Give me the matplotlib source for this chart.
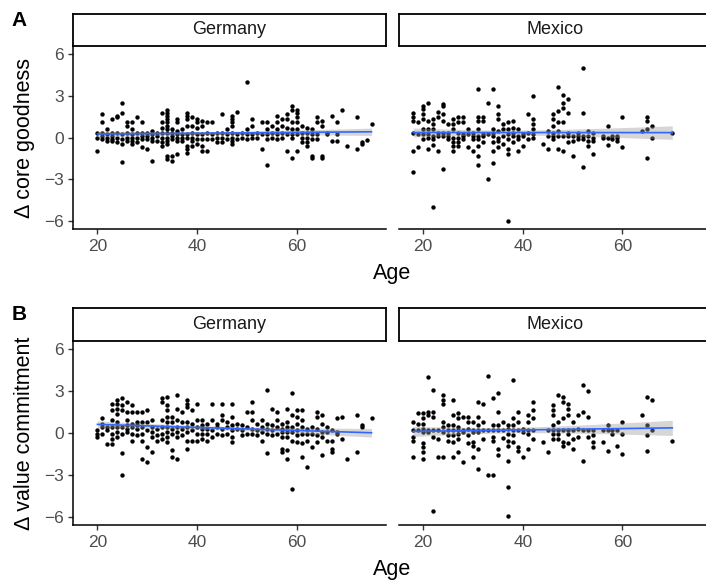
import numpy as np
import matplotlib.pyplot as plt

plt.rcParams['font.family'] = ['Liberation Sans', 'DejaVu Sans']

countries = ['Germany', 'Mexico']
row_labels = ['A', 'B']
y_titles = ['\u0394 core goodness', '\u0394 value commitment']
x_ticks = [20, 40, 60]
y_ticks = [-6, -3, 0, 3, 6]

# panel A, Germany: ages and the deltas seen at each age
ger_core_age = [20, 21, 22, 23, 24, 25, 26, 27, 28, 29, 30, 31, 32, 33, 34, 35, 36, 37, 38, 39,
                40, 41, 42, 43, 44, 45, 46, 47, 48, 49, 50, 51, 52, 53, 54, 55, 56, 57, 58, 59,
                60, 61, 62, 63, 64, 65, 66, 67, 68, 69, 70, 72, 73, 74, 75]
ger_core_val = [[0, -1, 0.35], [1.7, 1.1, 0.35, 0.1, -0.1], [0.6, 0.25, 0, -0.25],
                [1.3, 0.35, 0.1, -0.1, -0.25], [1.45, 1.55, 0.35, 0, -0.35],
                [2.5, 1.8, -1.8, 0.25, -0.1, -0.5], [1.1, 0.85, 0.35, 0, -0.25],
                [1.1, 0.6, 0.25, 0, -0.25, -0.5], [1.5, 0.35, 0, -0.35],
                [1.15, 0.35, 0.1, -0.1, -0.7], [0.35, 0.1, -0.1, -0.85],
                [-1.7, 0.5, 0.25, 0, -0.25], [0.35, 0.1, -0.25],
                [1.8, 1.1, 0.7, 0.35, 0, -0.35, -0.6],
                [2.0, 1.8, 1.55, 1.3, 1.1, 0.85, 0.6, 0.35, 0, -0.25, -0.5, -1.3, -1.55],
                [-1.7, -1.3, 0.6, 0.35, 0.1, -0.1], [1.3, 1.1, 0.5, 0.25, 0, -0.25, -1.2],
                [0.6, 0.25, 0, -0.25], [1.8, 1.55, 1.3, 0.85, 0.25, 0, -0.6, -0.85, -1.1],
                [1.45, 0.85, 0.35, 0, -0.25, -0.6], [1.3, 1.1, 0.7, 0.25, -0.1, -0.5],
                [1.2, 0.85, 0.25, -0.1, -0.6, -1.0], [1.1, 0.35, -0.1, -1.0], [1.1, 0.25, -0.1],
                [0.35, 0, -0.35], [1.7, 0.35, 0, -0.35], [0.6, 0.25, -0.1],
                [1.55, 1.3, 1.1, 0.85, 0.35, 0, -0.25, -0.5], [1.85, 0.25, -0.1], [0.35, 0],
                [4.0, 0.6, 0.25, -0.1], [1.3, 0.85, 0.25, 0], [0.35, 0], [1.1, 0.25, -0.85],
                [1.1, 0.6, 0.25, -0.1, -2.0], [0.85, 0.35, 0], [1.55, 1.1, 0.6, 0.25, -0.1],
                [1.3, 0.85, 0.35, 0], [1.7, 1.3, 0.7, 0.25, -1.0],
                [2.3, 2.0, 1.1, 0.6, 0.25, 0, -1.5], [2.0, 1.8, 1.45, 1.1, 0.6, 0.25, -1.0],
                [0.85, 0.35, 0, -0.35], [0.7, 0.35, 0, -0.35, -0.6],
                [0.6, 0.25, -0.1, -1.3, -1.5], [1.45, 1.1, 0.25, -0.1], [1.2, 0.85, -1.3, -1.5],
                [0.35, 0.25], [1.55, -0.25], [1.1, 0.25, -0.25], [2.0], [-0.6], [1.5, -0.85],
                [-0.5, -0.35], [-0.2], [1.0]]

# panel A, Mexico
mex_core_age = [18, 19, 20, 21, 22, 23, 24, 25, 26, 27, 28, 29, 30, 31, 32, 33, 34, 35, 36, 37,
                38, 39, 40, 41, 42, 44, 45, 46, 47, 48, 49, 50, 51, 52, 53, 54, 56, 57, 58, 59,
                60, 64, 65, 66, 70]
mex_core_val = [[1.8, 1.5, 1.2, 0.35, -1.0, -2.5], [1.1, 0.25, -0.65],
                [2.3, 2.05, 1.7, 1.3, 0.6, 0.25, -0.1], [2.5, 1.2, 0.6, 0.25, 0, -0.85],
                [1.3, 0.95, 0.6, 0.1, -0.1, -0.55, -5.0], [1.85, 1.45, 0.35, 0.1, -1.0],
                [2.4, 2.3, 1.7, 1.2, 0.35, 0.1, -2.3], [0.95, 0.35, 0.1, -0.1],
                [1.3, 0.95, 0.6, 0, -0.35, -0.6, -1.0], [1.5, 1.1, 0.35, 0, -0.35, -0.6],
                [1.5, 1.1, 0.25, 0.1, -0.1], [0.6, 0.25, -0.7], [0.35, 0.1, -0.1, -0.95],
                [3.5, 1.5, 1.2, 0.6, 0.1, -0.1, -0.6, -1.3, -2.0], [1.5, 1.2, 0.25, 0.1, -0.35],
                [2.5, 0.25, -3.0], [3.5, 0.6, 0.35, 0.1, -0.35, -1.0, -1.85],
                [2.3, 1.7, 1.3, 0.5, 0, -0.25, -0.7], [0.95, 0.6, 0.1, -0.5],
                [-6.0, 1.1, 0.6, 0.25, -0.1, -0.85, -1.2], [1.2, 0.7, 0.35, 0.1, -0.35],
                [0.6, 0.1, -0.1, -1.0], [0.25, 0.1, -0.6], [1.7, 0.35, -0.1],
                [3.0, 1.3, 0.95, 0.6, 0.25, 0], [-0.5], [0.5, 0.1, -0.85],
                [1.7, 1.3, 0.8, 0.35, 0.1, -0.1], [3.65, 1.9, 1.1, 0.5, 0.1, -0.85],
                [3.1, 2.5, 2.15, 1.1, 0.1, -0.95], [2.8, 1.8, 0.35, 0.1, -0.35],
                [0.1, -0.25, -1.3], [0.35, 0.1, -0.1], [5.0, 1.8, 0.1, -0.1, -2.15],
                [0.5, 0.1, -0.25, -0.6], [0.35, 0, -0.25, -1.2], [0.1, 0], [0.8, 0, -0.55],
                [0.1, -0.1], [0.1, 0, -0.25], [1.45, -0.65], [0.5], [1.5, 1.2, 0.6, -1.5],
                [0.8, 0], [0.3]]

# panel B, Germany
ger_value_age = [20, 21, 22, 23, 24, 25, 26, 27, 28, 29, 30, 31, 32, 33, 34, 35, 36, 37, 38, 39,
                 40, 41, 42, 43, 44, 45, 46, 47, 48, 49, 50, 51, 52, 53, 54, 55, 56, 57, 58, 59,
                 60, 61, 62, 63, 64, 65, 66, 67, 68, 69, 70, 72, 73, 75]
ger_value_val = [[0.2, -0.05, -0.3], [1.05, 0.65, 0.4, -0.05], [0.4, 0.2, -0.8],
                 [2.05, 1.65, 0.9, 0.45, -0.05, -0.4, -0.8],
                 [2.35, 2.1, 1.75, 1.35, 0.8, 0.4, 0.05, -0.3],
                 [2.5, 2.0, 1.65, 0.45, -0.05, -1.45, -3.0], [2.25, 1.5, 0.9, 0.55, 0.3, 0.05],
                 [2.0, 1.5, 0.65, 0.45, -0.05, -0.55], [1.5, 0.8, 0.55, 0.3, -0.15],
                 [1.5, 0.8, 0.45, -0.05, -0.55, -1.85], [1.65, 0.8, 0.2, -1.0, -2.1],
                 [0.9, 0.45, 0.05, -0.3, -1.35], [0.3, -0.15, -0.55],
                 [2.5, 2.25, 0.9, 0.4, -0.05, -0.4],
                 [2.6, 2.0, 1.65, 1.15, 0.8, 0.45, 0.05, -0.3, -0.65],
                 [1.15, 0.8, 0.3, -0.05, -1.25, -1.75], [2.7, 1.75, 0.9, 0.45, 0.05, -0.3, -1.85],
                 [1.5, 0.8, 0.3, -0.15], [2.35, 2.1, 1.9, 0.8, 0.45, 0.05, -0.55, -1.15],
                 [1.65, 0.65, 0.2, -0.55], [2.1, 0.9, 0.45, -0.05, -0.55],
                 [0.9, 0.55, 0.3, -0.05, -0.4], [0.65, 0.3, -0.05, -0.55], [2.1, 0.9, 0.2, -0.3],
                 [0.65, 0.45, -0.05], [2.1, 1.3, 0.9, 0.3, -0.15], [0.8, 0.45, -0.05],
                 [2.1, 1.15, 0.55, 0.2, -0.3, -0.65], [0.65, 0.3], [0.55, 0.2, -0.15],
                 [1.5, 0.45, -0.05], [2.25, 1.5, 0.9, 0.3, -0.05], [0.65, 0.2, -0.15],
                 [0.9, 0.45, 0.05, -0.55], [3.1, 0.65, 0.3, -0.05, -1.45], [1.75, 0.55, 0.2, -0.15],
                 [1.5, 0.9, 0.45, -0.05], [0.65, 0.3, 0.05, -0.3, -1.15, -1.35],
                 [1.75, 0.8, 0.45, 0.05, -0.3, -1.25, -1.85], [2.85, 1.3, 0.45, 0.05, -0.55, -4.0],
                 [1.65, 1.15, 0.65, 0.2, -0.15, -0.65], [1.65, 0.9, 0.45, -0.05, -0.75, -1.75],
                 [0.3, -0.05, -0.55, -2.45], [0.45, -0.05, -1.0], [1.5, 1.15, 0.3, -0.15, -0.65],
                 [1.3, 0.65, 0.05, -0.3, -1.6], [0.45, 0.05, -0.55], [0.2, -0.55, -1.15, -1.35],
                 [1.05, 0.05, -0.05], [1.15, -0.4], [-1.85], [1.3, -1.35], [0.55, 0.4], [1.05]]

# panel B, Mexico
mex_value_age = [18, 19, 20, 21, 22, 23, 24, 25, 26, 27, 28, 29, 30, 31, 32, 33, 34, 35, 36, 37,
                 38, 39, 40, 41, 42, 44, 45, 46, 47, 48, 49, 50, 51, 52, 53, 54, 56, 57, 58, 59,
                 60, 64, 65, 66, 70]
mex_value_val = [[0.8, 0.2, -0.3, -0.55, -1.75], [1.4, 0.65, 0.2],
                 [1.4, 1.05, 0.65, 0.3, 0.05, -0.75, -1.0, -1.35, -1.9], [4.0, 1.5, 1.3, 0.2, 0.05],
                 [3.1, 1.5, 1.15, 0.2, -0.3, -5.6], [0.2, -0.4, -1.75],
                 [2.7, 2.35, 2.1, 0.8, 0.45, 0.05, -1.75], [0.55, 0.2, -0.15, -0.55],
                 [2.35, 1.3, 0.55, 0.2, -0.15, -0.65, -1.75],
                 [1.4, 1.05, 0.45, 0.2, -0.05, -0.4, -1.35], [1.15, 0.2, 0.05, -2.1],
                 [1.15, 0.8, 0.3, -0.15, -0.75], [0.8, 0.2, 0.05, -0.65, -0.9, -1.75],
                 [2.25, 1.15, 0.55, 0.2, 0.05, -1.15, -2.55], [2.1, 0.8, 0.2, -0.4],
                 [4.1, 0.2, -3.0], [2.5, 0.55, 0.2, -0.3, -0.55, -3.0],
                 [2.85, 1.5, 0.55, 0.2, -1.15, -1.6], [0.8, 0.2, -0.35],
                 [-3.9, -5.95, 0.55, 0.3, -0.05, -0.55, -0.9, -2.0],
                 [3.8, 1.05, 0.55, 0.2, -0.15, -0.65], [1.5, 0.8, 0.2, -1.0, -1.3],
                 [0.3, 0.05, -1.75], [1.3, 0.8, 0.2, -0.05, -1.15], [2.25, 1.65, 1.05, 0.2, -0.4],
                 [-0.65], [0.2, -1.35], [2.0, 1.65, 1.3, 0.55, 0.2, -0.05, -0.4],
                 [2.75, 0.8, 0.2, -0.05, -0.4], [2.6, 2.25, 1.05, 0.2, -0.65, -0.9],
                 [2.1, 1.75, 1.3, 0.2, -0.05, -0.75], [0.8, 0.2, -0.4, -1.15], [1.3, 0.3, -0.3],
                 [3.45, 1.5, 0.2, -2.0], [3.0, 1.15, 0.2, -0.3], [0.2, -0.15, -0.65, -1.0],
                 [0.2, -0.65], [0.55, 0.2, -1.3], [0.2, -0.05], [0.2, -0.9], [0.8, -0.05, -1.5],
                 [1.3], [2.6, 0.55, -0.15, -1.3], [2.35, 0.2], [-0.6]]

panels = [[(ger_core_age, ger_core_val), (mex_core_age, mex_core_val)],
          [(ger_value_age, ger_value_val), (mex_value_age, mex_value_val)]]


def flatten(ages, vals):
    x, y = [], []
    for a, vs in zip(ages, vals):
        x += [a] * len(vs)
        y += vs
    return np.array(x, float), np.array(y, float)


def smooth(ax, x, y):
    # lm fit with 95% band, like geom_smooth(method = "lm")
    b, a = np.polyfit(x, y, 1)
    xs = np.linspace(x.min(), x.max(), 80)
    fit = a + b * xs
    n = len(x)
    s = np.sqrt(np.sum((y - (a + b * x)) ** 2) / (n - 2))
    se = s * np.sqrt(1 / n + (xs - x.mean()) ** 2 / np.sum((x - x.mean()) ** 2))
    ax.fill_between(xs, fit - 1.97 * se, fit + 1.97 * se, color='#999999', alpha=0.4, lw=0, zorder=3)
    ax.plot(xs, fit, color='#3366FF', lw=1.2, zorder=4)


W, H = 706, 583
fig = plt.figure(figsize=(W / 100, H / 100), dpi=100)

lefts = [73.3, 399.0]
pw = 312.4
rows = [(14, 46, 229), (308, 341, 525)]  # strip top, panel top, panel bottom (px)

for r, (st, pt, pb) in enumerate(rows):
    for c in range(2):
        x0 = lefts[c] / W
        ax = fig.add_axes([x0, 1 - pb / H, pw / W, (pb - pt) / H])
        ages, vals = panels[r][c]
        x, y = flatten(ages, vals)
        ax.scatter(x, y, s=10, color='black', linewidths=0, zorder=2)
        smooth(ax, x, y)
        ax.set_xlim(15.15, 77.85)
        ax.set_ylim(-6.6, 6.6)
        ax.set_xticks(x_ticks)
        ax.set_yticks(y_ticks)
        for side in ['top', 'right']:
            ax.spines[side].set_visible(False)
        ax.spines['bottom'].set_linewidth(1.1)
        ax.spines['left'].set_linewidth(1.1)
        ax.tick_params(length=3.9, width=1.0, color='#333333', labelcolor='#4D4D4D',
                       labelsize=12.5, pad=3)
        if c == 1:
            ax.spines['left'].set_visible(False)
            ax.tick_params(axis='y', left=False, labelleft=False)

        # facet strip
        sa = fig.add_axes([x0, 1 - pt / H, pw / W, (pt - st) / H])
        sa.set_xticks([])
        sa.set_yticks([])
        for sp in sa.spines.values():
            sp.set_linewidth(1.3)
        sa.text(0.5, 0.5, countries[c], ha='center', va='center', fontsize=13, color='#1A1A1A',
                transform=sa.transAxes)

    fig.text(392 / W, 1 - (pb + 44) / H, 'Age', ha='center', va='center', fontsize=15.5)
    fig.text(25 / W, 1 - (pt + pb) / 2 / H, y_titles[r], ha='center', va='center',
             rotation=90, fontsize=15.5)
    fig.text(19 / W, 1 - (st + 7) / H, row_labels[r], ha='center', va='center',
             fontsize=15, fontweight='bold')

fig.savefig('out.png', dpi=100)
